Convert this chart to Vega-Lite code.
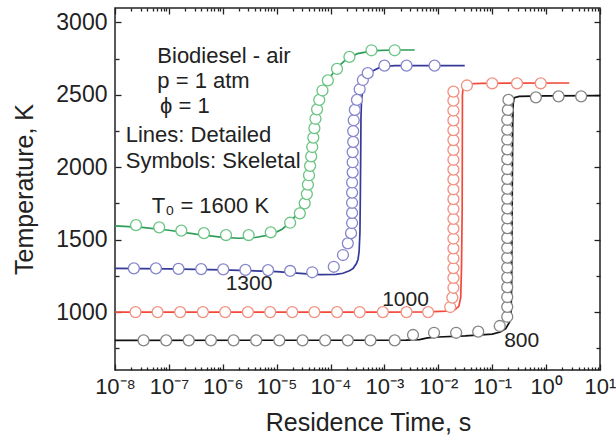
{
  "$schema": "https://vega.github.io/schema/vega-lite/v6.json",
  "width": 485,
  "height": 362,
  "autosize": "none",
  "padding": {"left": 115, "top": 8, "right": 16, "bottom": 70},
  "background": "white",
  "config": {
    "view": {"stroke": "#222222", "strokeWidth": 1.5},
    "font": "Liberation Sans",
    "axis": {
      "domain": false, "grid": false, "tickColor": "#222222", "tickWidth": 1.3,
      "labelFont": "Liberation Sans", "labelColor": "#222222", "labelFontSize": 23,
      "titleFont": "Liberation Sans", "titleColor": "#222222", "titleFontWeight": "normal", "titleFontSize": 25,
      "labelOverlap": false, "labelFlush": false, "labelBound": false
    }
  },
  "datasets": {
    "lines": [
      {"s": "1600", "t": 1e-8, "T": 1595}, {"s": "1600", "t": 3.16e-8, "T": 1585}, {"s": "1600", "t": 1e-7, "T": 1565},
      {"s": "1600", "t": 3.16e-7, "T": 1538}, {"s": "1600", "t": 1e-6, "T": 1516}, {"s": "1600", "t": 2e-6, "T": 1510},
      {"s": "1600", "t": 3.98e-6, "T": 1515}, {"s": "1600", "t": 7.94e-6, "T": 1535}, {"s": "1600", "t": 1.26e-5, "T": 1572},
      {"s": "1600", "t": 1.78e-5, "T": 1620}, {"s": "1600", "t": 2.51e-5, "T": 1690}, {"s": "1600", "t": 3.16e-5, "T": 1765},
      {"s": "1600", "t": 3.8e-5, "T": 1880}, {"s": "1600", "t": 4.37e-5, "T": 2050}, {"s": "1600", "t": 5.01e-5, "T": 2250},
      {"s": "1600", "t": 5.62e-5, "T": 2400}, {"s": "1600", "t": 6.61e-5, "T": 2500}, {"s": "1600", "t": 8.91e-5, "T": 2600},
      {"s": "1600", "t": 1.26e-4, "T": 2680}, {"s": "1600", "t": 2e-4, "T": 2750}, {"s": "1600", "t": 3.16e-4, "T": 2785},
      {"s": "1600", "t": 6.31e-4, "T": 2805}, {"s": "1600", "t": 1.58e-3, "T": 2810}, {"s": "1600", "t": 3.63e-3, "T": 2810},

      {"s": "1300", "t": 1e-8, "T": 1302}, {"s": "1300", "t": 1e-7, "T": 1299}, {"s": "1300", "t": 1e-6, "T": 1292},
      {"s": "1300", "t": 1e-5, "T": 1280}, {"s": "1300", "t": 3.16e-5, "T": 1265}, {"s": "1300", "t": 6.31e-5, "T": 1258},
      {"s": "1300", "t": 1.26e-4, "T": 1261}, {"s": "1300", "t": 1.7e-4, "T": 1268}, {"s": "1300", "t": 2.24e-4, "T": 1285},
      {"s": "1300", "t": 2.63e-4, "T": 1302}, {"s": "1300", "t": 3.02e-4, "T": 1335}, {"s": "1300", "t": 3.24e-4, "T": 1365},
      {"s": "1300", "t": 3.39e-4, "T": 1420}, {"s": "1300", "t": 3.51e-4, "T": 1550}, {"s": "1300", "t": 3.57e-4, "T": 1800},
      {"s": "1300", "t": 3.63e-4, "T": 2100}, {"s": "1300", "t": 3.67e-4, "T": 2350}, {"s": "1300", "t": 3.76e-4, "T": 2465},
      {"s": "1300", "t": 3.98e-4, "T": 2540}, {"s": "1300", "t": 4.27e-4, "T": 2603}, {"s": "1300", "t": 5.69e-4, "T": 2660},
      {"s": "1300", "t": 8.71e-4, "T": 2695}, {"s": "1300", "t": 1.58e-3, "T": 2702}, {"s": "1300", "t": 3.09e-2, "T": 2702},

      {"s": "1000", "t": 1e-8, "T": 1000}, {"s": "1000", "t": 1e-3, "T": 1000}, {"s": "1000", "t": 6.31e-3, "T": 1002},
      {"s": "1000", "t": 1.41e-2, "T": 1006}, {"s": "1000", "t": 2e-2, "T": 1015}, {"s": "1000", "t": 2.4e-2, "T": 1040},
      {"s": "1000", "t": 2.6e-2, "T": 1100}, {"s": "1000", "t": 2.69e-2, "T": 1300}, {"s": "1000", "t": 2.77e-2, "T": 1700},
      {"s": "1000", "t": 2.79e-2, "T": 2200}, {"s": "1000", "t": 2.8e-2, "T": 2500}, {"s": "1000", "t": 2.88e-2, "T": 2550},
      {"s": "1000", "t": 3.16e-2, "T": 2575}, {"s": "1000", "t": 6.31e-2, "T": 2580}, {"s": "1000", "t": 2.69, "T": 2582},

      {"s": "800", "t": 1e-8, "T": 805}, {"s": "800", "t": 2.5e-3, "T": 806}, {"s": "800", "t": 4.47e-3, "T": 810},
      {"s": "800", "t": 6.31e-3, "T": 822}, {"s": "800", "t": 1e-2, "T": 828}, {"s": "800", "t": 3.16e-2, "T": 835},
      {"s": "800", "t": 0.1, "T": 848}, {"s": "800", "t": 0.141, "T": 862}, {"s": "800", "t": 0.178, "T": 885},
      {"s": "800", "t": 0.209, "T": 930}, {"s": "800", "t": 0.224, "T": 1000}, {"s": "800", "t": 0.229, "T": 1200},
      {"s": "800", "t": 0.233, "T": 1600}, {"s": "800", "t": 0.237, "T": 2000}, {"s": "800", "t": 0.24, "T": 2300},
      {"s": "800", "t": 0.245, "T": 2440}, {"s": "800", "t": 0.257, "T": 2480}, {"s": "800", "t": 0.316, "T": 2490},
      {"s": "800", "t": 1, "T": 2493}, {"s": "800", "t": 10, "T": 2495}
    ],
    "points": [
      {"s": "1600", "t": 2.455e-8, "T": 1600}, {"s": "1600", "t": 6.61e-8, "T": 1585}, {"s": "1600", "t": 1.7e-7, "T": 1563},
      {"s": "1600", "t": 4.47e-7, "T": 1545}, {"s": "1600", "t": 1.148e-6, "T": 1532}, {"s": "1600", "t": 3.02e-6, "T": 1532},
      {"s": "1600", "t": 7.76e-6, "T": 1551}, {"s": "1600", "t": 1.778e-5, "T": 1617}, {"s": "1600", "t": 2.69e-5, "T": 1682},
      {"s": "1600", "t": 3.31e-5, "T": 1751}, {"s": "1600", "t": 3.63e-5, "T": 1815}, {"s": "1600", "t": 3.8e-5, "T": 1880},
      {"s": "1600", "t": 3.98e-5, "T": 1945}, {"s": "1600", "t": 4.17e-5, "T": 2010}, {"s": "1600", "t": 4.37e-5, "T": 2075},
      {"s": "1600", "t": 4.57e-5, "T": 2140}, {"s": "1600", "t": 4.79e-5, "T": 2205}, {"s": "1600", "t": 5.01e-5, "T": 2270},
      {"s": "1600", "t": 5.25e-5, "T": 2335}, {"s": "1600", "t": 5.62e-5, "T": 2400}, {"s": "1600", "t": 6.17e-5, "T": 2465},
      {"s": "1600", "t": 7.08e-5, "T": 2530}, {"s": "1600", "t": 8.91e-5, "T": 2600}, {"s": "1600", "t": 1.318e-4, "T": 2680},
      {"s": "1600", "t": 2.24e-4, "T": 2762}, {"s": "1600", "t": 5.75e-4, "T": 2808}, {"s": "1600", "t": 1.55e-3, "T": 2808},

      {"s": "1300", "t": 2.24e-8, "T": 1302}, {"s": "1300", "t": 5.75e-8, "T": 1302}, {"s": "1300", "t": 1.51e-7, "T": 1298},
      {"s": "1300", "t": 3.98e-7, "T": 1297}, {"s": "1300", "t": 1.02e-6, "T": 1295}, {"s": "1300", "t": 2.63e-6, "T": 1291},
      {"s": "1300", "t": 6.92e-6, "T": 1290}, {"s": "1300", "t": 1.78e-5, "T": 1284}, {"s": "1300", "t": 4.57e-5, "T": 1275},
      {"s": "1300", "t": 1.148e-4, "T": 1313}, {"s": "1300", "t": 1.7e-4, "T": 1394}, {"s": "1300", "t": 2.09e-4, "T": 1475},
      {"s": "1300", "t": 2.4e-4, "T": 1545}, {"s": "1300", "t": 2.51e-4, "T": 1615}, {"s": "1300", "t": 2.51e-4, "T": 1685},
      {"s": "1300", "t": 2.51e-4, "T": 1755}, {"s": "1300", "t": 2.51e-4, "T": 1825}, {"s": "1300", "t": 2.51e-4, "T": 1895},
      {"s": "1300", "t": 2.57e-4, "T": 1965}, {"s": "1300", "t": 2.57e-4, "T": 2035}, {"s": "1300", "t": 2.57e-4, "T": 2105},
      {"s": "1300", "t": 2.63e-4, "T": 2175}, {"s": "1300", "t": 2.63e-4, "T": 2250}, {"s": "1300", "t": 2.69e-4, "T": 2325},
      {"s": "1300", "t": 2.82e-4, "T": 2396}, {"s": "1300", "t": 3.09e-4, "T": 2465}, {"s": "1300", "t": 3.47e-4, "T": 2539},
      {"s": "1300", "t": 3.98e-4, "T": 2603}, {"s": "1300", "t": 4.9e-4, "T": 2650}, {"s": "1300", "t": 1e-3, "T": 2702},
      {"s": "1300", "t": 2.57e-3, "T": 2702}, {"s": "1300", "t": 8.51e-3, "T": 2702},

      {"s": "1000", "t": 2.4e-8, "T": 1000}, {"s": "1000", "t": 6.17e-8, "T": 1000}, {"s": "1000", "t": 1.62e-7, "T": 1000},
      {"s": "1000", "t": 4.27e-7, "T": 1000}, {"s": "1000", "t": 1.11e-6, "T": 1000}, {"s": "1000", "t": 2.92e-6, "T": 1000},
      {"s": "1000", "t": 7.59e-6, "T": 1000}, {"s": "1000", "t": 1.95e-5, "T": 1000}, {"s": "1000", "t": 5.01e-5, "T": 1000},
      {"s": "1000", "t": 1.32e-4, "T": 1000}, {"s": "1000", "t": 3.47e-4, "T": 1000}, {"s": "1000", "t": 9.33e-4, "T": 1000},
      {"s": "1000", "t": 2.57e-3, "T": 1000}, {"s": "1000", "t": 6.46e-3, "T": 1000}, {"s": "1000", "t": 1.66e-2, "T": 1035},
      {"s": "1000", "t": 1.82e-2, "T": 1100}, {"s": "1000", "t": 1.905e-2, "T": 1168}, {"s": "1000", "t": 1.905e-2, "T": 1236},
      {"s": "1000", "t": 1.905e-2, "T": 1304}, {"s": "1000", "t": 1.905e-2, "T": 1372}, {"s": "1000", "t": 1.905e-2, "T": 1440},
      {"s": "1000", "t": 1.905e-2, "T": 1508}, {"s": "1000", "t": 1.905e-2, "T": 1576}, {"s": "1000", "t": 1.905e-2, "T": 1644},
      {"s": "1000", "t": 1.905e-2, "T": 1712}, {"s": "1000", "t": 1.905e-2, "T": 1780}, {"s": "1000", "t": 1.905e-2, "T": 1848},
      {"s": "1000", "t": 1.905e-2, "T": 1916}, {"s": "1000", "t": 1.905e-2, "T": 1984}, {"s": "1000", "t": 1.905e-2, "T": 2052},
      {"s": "1000", "t": 1.905e-2, "T": 2120}, {"s": "1000", "t": 1.905e-2, "T": 2188}, {"s": "1000", "t": 1.905e-2, "T": 2256},
      {"s": "1000", "t": 1.905e-2, "T": 2324}, {"s": "1000", "t": 1.905e-2, "T": 2392}, {"s": "1000", "t": 1.905e-2, "T": 2460},
      {"s": "1000", "t": 1.905e-2, "T": 2522}, {"s": "1000", "t": 3.39e-2, "T": 2565}, {"s": "1000", "t": 0.1, "T": 2580},
      {"s": "1000", "t": 0.288, "T": 2580}, {"s": "1000", "t": 0.794, "T": 2580},

      {"s": "800", "t": 3.39e-8, "T": 805}, {"s": "800", "t": 8.91e-8, "T": 805}, {"s": "800", "t": 2.34e-7, "T": 805},
      {"s": "800", "t": 6.03e-7, "T": 805}, {"s": "800", "t": 1.585e-6, "T": 805}, {"s": "800", "t": 4.17e-6, "T": 805},
      {"s": "800", "t": 1.12e-5, "T": 805}, {"s": "800", "t": 3.02e-5, "T": 805}, {"s": "800", "t": 7.94e-5, "T": 805},
      {"s": "800", "t": 2.09e-4, "T": 805}, {"s": "800", "t": 5.5e-4, "T": 805}, {"s": "800", "t": 1.55e-3, "T": 805},
      {"s": "800", "t": 3.39e-3, "T": 842}, {"s": "800", "t": 8.32e-3, "T": 857}, {"s": "800", "t": 2.14e-2, "T": 857},
      {"s": "800", "t": 5.5e-2, "T": 865}, {"s": "800", "t": 0.138, "T": 904}, {"s": "800", "t": 0.19, "T": 968},
      {"s": "800", "t": 0.19, "T": 1036}, {"s": "800", "t": 0.19, "T": 1104}, {"s": "800", "t": 0.19, "T": 1172},
      {"s": "800", "t": 0.19, "T": 1240}, {"s": "800", "t": 0.19, "T": 1308}, {"s": "800", "t": 0.19, "T": 1376},
      {"s": "800", "t": 0.19, "T": 1444}, {"s": "800", "t": 0.19, "T": 1512}, {"s": "800", "t": 0.19, "T": 1580},
      {"s": "800", "t": 0.19, "T": 1648}, {"s": "800", "t": 0.19, "T": 1716}, {"s": "800", "t": 0.19, "T": 1784},
      {"s": "800", "t": 0.19, "T": 1852}, {"s": "800", "t": 0.19, "T": 1920}, {"s": "800", "t": 0.19, "T": 1988},
      {"s": "800", "t": 0.19, "T": 2056}, {"s": "800", "t": 0.19, "T": 2124}, {"s": "800", "t": 0.19, "T": 2192},
      {"s": "800", "t": 0.19, "T": 2260}, {"s": "800", "t": 0.19, "T": 2328}, {"s": "800", "t": 0.195, "T": 2396},
      {"s": "800", "t": 0.2, "T": 2465}, {"s": "800", "t": 0.646, "T": 2483}, {"s": "800", "t": 1.7, "T": 2490},
      {"s": "800", "t": 4.47, "T": 2490}
    ],
    "notes": [
      {"t": 6.1e-8, "T": 2718, "text": "Biodiesel - air"},
      {"t": 6.1e-8, "T": 2545, "text": "p = 1 atm"},
      {"t": 6.84e-8, "T": 2373, "text": "ϕ = 1"},
      {"t": 1.58e-8, "T": 2177, "text": "Lines: Detailed"},
      {"t": 1.58e-8, "T": 1993, "text": "Symbols: Skeletal"},
      {"t": 4.8e-8, "T": 1682, "text": "T₀ = 1600 K"}
    ],
    "temps": [
      {"t": 3.07e-6, "T": 1152, "text": "1300"},
      {"t": 2.46e-3, "T": 1042, "text": "1000"},
      {"t": 0.352, "T": 761, "text": "800"}
    ]
  },
  "resolve": {
    "axis": {"x": "independent", "y": "independent"},
    "scale": {"stroke": "independent"}
  },
  "layer": [
    {
      "data": {"name": "lines"},
      "mark": {"type": "line", "strokeWidth": 1.7, "interpolate": "linear"},
      "encoding": {
        "x": {
          "field": "t", "type": "quantitative",
          "scale": {"type": "log", "domain": [1e-8, 10], "nice": false},
          "axis": {
            "orient": "bottom", "title": "Residence Time, s", "titleX": 253, "titleY": 60,
            "titleBaseline": "alphabetic", "titleAnchor": null,
            "values": [1e-8, 1e-7, 1e-6, 1e-5, 1e-4, 1e-3, 1e-2, 0.1, 1, 10],
            "tickSize": -6, "labelPadding": 12, "labelFontSize": 22,
            "labelExpr": "'10' + ['⁻⁸','⁻⁷','⁻⁶','⁻⁵','⁻⁴','⁻³','⁻²','⁻¹','⁰','¹'][round(log(datum.value)/LN10)+8]"
          }
        },
        "y": {
          "field": "T", "type": "quantitative",
          "scale": {"domain": [600, 3100], "nice": false, "zero": false},
          "axis": {
            "orient": "left", "title": "Temperature, K", "titleX": -91, "titleY": 181,
            "titleBaseline": "middle", "titleAngle": -90,
            "values": [1000, 1500, 2000, 2500, 3000], "tickSize": -6, "labelPadding": 14, "format": "d"
          }
        },
        "stroke": {
          "field": "s", "type": "nominal", "legend": null,
          "scale": {"domain": ["1600", "1300", "1000", "800"], "range": ["#2f9e5a", "#353a98", "#f24a3a", "#111111"]}
        }
      }
    },
    {
      "data": {"name": "points"},
      "mark": {"type": "point", "shape": "circle", "size": 120, "strokeWidth": 1.3, "filled": false, "fill": "white", "fillOpacity": 1, "opacity": 1},
      "encoding": {
        "x": {
          "field": "t", "type": "quantitative",
          "scale": {"type": "log", "domain": [1e-8, 10], "nice": false},
          "axis": {"orient": "top", "title": null, "labels": false, "tickSize": -6,
            "values": [1e-8, 1e-7, 1e-6, 1e-5, 1e-4, 1e-3, 1e-2, 0.1, 1, 10]}
        },
        "y": {
          "field": "T", "type": "quantitative",
          "scale": {"domain": [600, 3100], "nice": false, "zero": false},
          "axis": {"orient": "right", "title": null, "labels": false, "tickSize": -6,
            "values": [1000, 1500, 2000, 2500, 3000]}
        },
        "stroke": {
          "field": "s", "type": "nominal", "legend": null,
          "scale": {"domain": ["1600", "1300", "1000", "800"], "range": ["#6cc584", "#8686cc", "#f29080", "#858585"]}
        }
      }
    },
    {
      "data": {"name": "notes"},
      "mark": {"type": "text", "align": "left", "baseline": "alphabetic", "fontSize": 22, "font": "Liberation Sans", "color": "#222222"},
      "encoding": {
        "x": {
          "field": "t", "type": "quantitative",
          "scale": {"type": "log", "domain": [1e-8, 10], "nice": false},
          "axis": {"orient": "bottom", "title": null, "labels": false, "tickSize": -3,
            "values": [2e-8,3e-8,4e-8,5e-8,6e-8,7e-8,8e-8,9e-8,2e-7,3e-7,4e-7,5e-7,6e-7,7e-7,8e-7,9e-7,2e-6,3e-6,4e-6,5e-6,6e-6,7e-6,8e-6,9e-6,2e-5,3e-5,4e-5,5e-5,6e-5,7e-5,8e-5,9e-5,2e-4,3e-4,4e-4,5e-4,6e-4,7e-4,8e-4,9e-4,2e-3,3e-3,4e-3,5e-3,6e-3,7e-3,8e-3,9e-3,0.02,0.03,0.04,0.05,0.06,0.07,0.08,0.09,0.2,0.3,0.4,0.5,0.6,0.7,0.8,0.9,2,3,4,5,6,7,8,9]}
        },
        "y": {
          "field": "T", "type": "quantitative",
          "scale": {"domain": [600, 3100], "nice": false, "zero": false},
          "axis": {"orient": "left", "title": null, "labels": false, "tickSize": -4,
            "values": [750, 1250, 1750, 2250, 2750]}
        },
        "text": {"field": "text"}
      }
    },
    {
      "data": {"name": "temps"},
      "mark": {"type": "text", "align": "center", "baseline": "alphabetic", "fontSize": 21, "font": "Liberation Sans", "color": "#222222"},
      "encoding": {
        "x": {
          "field": "t", "type": "quantitative",
          "scale": {"type": "log", "domain": [1e-8, 10], "nice": false},
          "axis": {"orient": "top", "title": null, "labels": false, "tickSize": -3,
            "values": [2e-8,3e-8,4e-8,5e-8,6e-8,7e-8,8e-8,9e-8,2e-7,3e-7,4e-7,5e-7,6e-7,7e-7,8e-7,9e-7,2e-6,3e-6,4e-6,5e-6,6e-6,7e-6,8e-6,9e-6,2e-5,3e-5,4e-5,5e-5,6e-5,7e-5,8e-5,9e-5,2e-4,3e-4,4e-4,5e-4,6e-4,7e-4,8e-4,9e-4,2e-3,3e-3,4e-3,5e-3,6e-3,7e-3,8e-3,9e-3,0.02,0.03,0.04,0.05,0.06,0.07,0.08,0.09,0.2,0.3,0.4,0.5,0.6,0.7,0.8,0.9,2,3,4,5,6,7,8,9]}
        },
        "y": {
          "field": "T", "type": "quantitative",
          "scale": {"domain": [600, 3100], "nice": false, "zero": false},
          "axis": {"orient": "right", "title": null, "labels": false, "tickSize": -4,
            "values": [750, 1250, 1750, 2250, 2750]}
        },
        "text": {"field": "text"}
      }
    }
  ]
}
